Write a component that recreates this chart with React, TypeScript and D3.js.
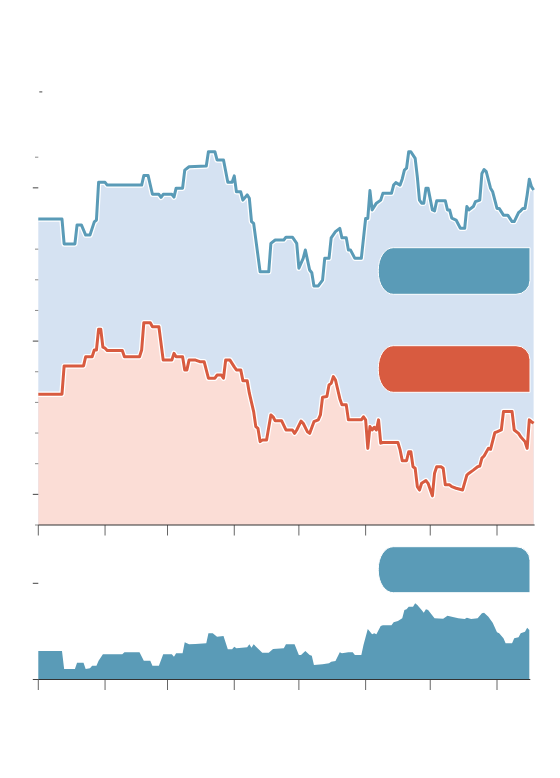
import React, { useEffect, useRef } from 'react'
import * as d3 from 'd3'

// [days since 1 Jan 2020, value]
type Point = [number, number]

const startDate = new Date(2020, 0, 1)
const lastTickDate = new Date(2020, 7, 1)

// upper line of the top chart (blue)
const upperSeries: Point[] = [
  [0, 9.98], [11, 9.98], [12, 9.17], [17, 9.17], [18, 9.79], [20, 9.79], [22, 9.46], [24, 9.46],
  [26, 9.89], [27, 9.95], [28, 11.18], [31, 11.18], [32, 11.09], [48, 11.09], [49, 11.4], [51, 11.4],
  [53, 10.79], [56, 10.79], [57, 10.69], [58, 10.79], [62, 10.79], [63, 10.7], [64, 10.99], [67, 10.99],
  [68, 11.58], [70, 11.69], [78, 11.71], [79, 12.18], [82, 12.18], [83, 11.91], [86, 11.91], [88, 11.18],
  [90, 11.18], [91, 11.39], [92, 10.87], [94, 10.87], [95, 10.6], [97, 10.77], [98, 10.66], [99, 9.9],
  [100, 9.84], [103, 8.26], [107, 8.26], [108, 9.19], [110, 9.3], [114, 9.3], [115, 9.39], [118, 9.39],
  [120, 9.19], [121, 8.38], [123, 8.7], [124, 8.97], [126, 8.32], [127, 8.23], [128, 7.8], [130, 7.8],
  [132, 7.99], [133, 8.7], [135, 8.7], [136, 9.37], [138, 9.57], [140, 9.68], [141, 9.37], [143, 9.37],
  [144, 8.97], [145, 8.97], [147, 8.7], [150, 8.7], [152, 10.0], [153, 10.0], [154, 10.91], [155, 10.28],
  [157, 10.5], [159, 10.6], [160, 10.82], [164, 10.82], [165, 11.09], [166, 11.17], [168, 11.09], [169, 11.29],
  [170, 11.58], [171, 11.64], [172, 12.18], [173, 12.18], [175, 11.96], [176, 11.36], [177, 10.6], [178, 10.5],
  [179, 10.5], [180, 10.99], [181, 10.99], [183, 10.28], [184, 10.25], [185, 10.58], [189, 10.58], [190, 10.28],
  [191, 10.28], [192, 10.01], [194, 9.95], [196, 9.68], [198, 9.68], [199, 10.39], [200, 10.28], [202, 10.39],
  [203, 10.55], [205, 10.6], [206, 11.47], [207, 11.6], [208, 11.53], [210, 10.99], [211, 10.87], [212, 10.6],
  [213, 10.33], [214, 10.33], [216, 10.11], [218, 10.11], [220, 9.9], [221, 9.9], [223, 10.19], [224, 10.25],
  [225, 10.33], [226, 10.33], [227, 10.77], [228, 11.28], [229, 11.04], [230, 10.93],
]

// lower line of the top chart (red)
const lowerSeries: Point[] = [
  [0, 4.27], [11, 4.27], [12, 5.19], [21, 5.19], [22, 5.49], [25, 5.49], [26, 5.71], [27, 5.71],
  [28, 6.39], [29, 6.39], [30, 5.8], [31, 5.77], [32, 5.69], [39, 5.69], [40, 5.49], [47, 5.49],
  [48, 5.71], [49, 6.6], [52, 6.6], [53, 6.47], [56, 6.47], [58, 5.38], [62, 5.38], [63, 5.6],
  [64, 5.49], [67, 5.49], [68, 5.06], [69, 5.06], [70, 5.38], [73, 5.38], [75, 5.33], [77, 5.33],
  [79, 4.79], [82, 4.79], [83, 4.89], [85, 4.89], [86, 4.79], [87, 5.38], [89, 5.38], [91, 5.16],
  [92, 5.06], [94, 5.06], [95, 4.71], [97, 4.71], [98, 4.3], [100, 3.7], [101, 3.21], [102, 3.15],
  [103, 2.72], [104, 2.77], [106, 2.77], [108, 3.59], [109, 3.53], [110, 3.4], [113, 3.4], [115, 3.1],
  [118, 3.1], [119, 2.99], [120, 3.1], [122, 3.39], [123, 3.32], [125, 3.04], [126, 2.99], [128, 3.37],
  [130, 3.43], [131, 3.59], [132, 4.17], [134, 4.19], [135, 4.57], [136, 4.62], [137, 4.84], [138, 4.73],
  [140, 4.13], [141, 3.92], [143, 3.92], [144, 3.43], [150, 3.43], [151, 3.53], [152, 3.43], [153, 2.5],
  [154, 3.21], [155, 3.1], [156, 3.19], [157, 3.1], [158, 3.43], [159, 2.67], [160, 2.69], [167, 2.69],
  [168, 2.45], [169, 2.1], [171, 2.1], [172, 2.39], [173, 2.39], [174, 1.9], [175, 1.85], [176, 1.25],
  [177, 1.14], [178, 1.36], [180, 1.45], [181, 1.36], [183, 0.95], [184, 1.69], [185, 1.9], [187, 1.9],
  [188, 1.85], [189, 1.31], [191, 1.31], [192, 1.25], [194, 1.2], [197, 1.14], [199, 1.63], [200, 1.69],
  [202, 1.79], [204, 1.9], [205, 1.92], [206, 2.18], [207, 2.25], [209, 2.5], [210, 2.47], [212, 3.01],
  [213, 3.04], [215, 3.1], [216, 3.7], [220, 3.7], [221, 3.1], [223, 2.99], [224, 2.88], [226, 2.72],
  [227, 2.5], [228, 3.43], [229, 3.37], [230, 3.32],
]

// bottom chart area
const bottomSeries: Point[] = [
  [0, 2.96], [11, 2.96], [12, 1.09], [17, 1.09], [18, 1.75], [21, 1.75], [22, 1.09], [24, 1.16],
  [25, 1.43], [27, 1.43], [28, 1.95], [30, 2.62], [39, 2.62], [40, 2.83], [47, 2.83], [49, 1.95],
  [52, 1.95], [53, 1.43], [56, 1.43], [58, 2.62], [62, 2.62], [63, 2.37], [64, 2.72], [67, 2.72],
  [68, 3.87], [70, 3.66], [73, 3.69], [78, 3.76], [79, 4.8], [81, 4.8], [83, 4.45], [86, 4.52],
  [88, 3.14], [90, 3.14], [91, 3.41], [92, 3.24], [97, 3.35], [98, 3.66], [99, 3.31], [100, 3.66],
  [104, 2.79], [107, 2.79], [109, 3.17], [114, 3.24], [115, 3.66], [119, 3.66], [121, 2.55], [122, 2.55],
  [124, 2.96], [126, 2.55], [127, 2.47], [128, 1.51], [132, 1.58], [135, 1.68], [136, 1.85], [138, 1.92],
  [140, 2.83], [141, 2.72], [144, 2.83], [146, 2.83], [147, 2.55], [150, 2.55], [151, 3.59], [153, 5.25],
  [155, 4.7], [156, 4.8], [157, 4.7], [159, 5.56], [160, 5.63], [164, 5.63], [165, 5.95], [167, 6.08],
  [169, 6.36], [170, 7.22], [171, 7.3], [172, 7.57], [174, 7.57], [175, 7.92], [176, 7.74], [178, 7.22],
  [179, 6.94], [180, 7.3], [181, 7.22], [182, 6.94], [184, 6.36], [188, 6.32], [190, 6.63], [192, 6.53],
  [195, 6.36], [198, 6.29], [199, 6.42], [201, 6.29], [204, 6.36], [206, 6.88], [207, 6.94], [209, 6.53],
  [211, 5.9], [213, 4.91], [214, 4.8], [216, 4.28], [217, 3.76], [220, 3.76], [221, 4.28], [223, 4.39],
  [224, 4.8], [226, 4.97], [227, 5.38], [228, 5.15],
]

const topTicks = [0, 1, 2, 3, 4, 5, 6, 7, 8, 9, 11, 12]
const topMajorTicks = [1, 6, 11]
const topCapTick = 14.13
const bottomTicks = [0, 10]

const BLUE = '#5a9bb7'
const BLUE_FILL = '#d5e2f2'
const RED = '#d85b40'
const RED_FILL = '#fbddd6'

// rounded label box: left corners elliptical, right corners optional
const pillPath = (x: number, y: number, w: number, h: number, rTR: number, rBR: number) => {
  const rx = 15
  const ry = 22
  const p = d3.path()
  p.moveTo(x + rx, y)
  p.lineTo(x + w - rTR, y)
  if (rTR) p.arcTo(x + w, y, x + w, y + rTR, rTR)
  p.lineTo(x + w, y + h - rBR)
  if (rBR) p.arcTo(x + w, y + h, x + w - rBR, y + h, rBR)
  p.lineTo(x + rx, y + h)
  return p.toString() + ` A${rx},${ry} 0 0 1 ${x},${y + h - ry} L${x},${y + ry} A${rx},${ry} 0 0 1 ${x + rx},${y} Z`
}

const App: React.FC = () => {
  const svgRef = useRef<SVGSVGElement>(null)

  useEffect(() => {
    if (!svgRef.current) return
    const svg = d3.select(svgRef.current)
    svg.selectAll('*').remove()

    const date = (d: number) => d3.timeDay.offset(startDate, d)
    const x = d3.scaleTime().domain([startDate, lastTickDate]).range([38.3, 497])
    const yTop = d3.scaleLinear().domain([0, 10]).range([525, 218.5])
    const yBottom = d3.scaleLinear().domain([0, 10]).range([679.5, 583.3])

    const areaTop = d3.area<Point>()
      .x(p => x(date(p[0])))
      .y0(yTop(0))
      .y1(p => yTop(p[1]))
    const lineTop = d3.line<Point>()
      .x(p => x(date(p[0])))
      .y(p => yTop(p[1]))
    const areaBottom = d3.area<Point>()
      .x(p => x(date(p[0])))
      .y0(yBottom(0))
      .y1(p => yBottom(p[1]))

    const g = svg.append('g')

    // top chart fills
    g.append('path').attr('d', areaTop(upperSeries)).attr('fill', BLUE_FILL)
    g.append('path').attr('d', areaTop(lowerSeries)).attr('fill', RED_FILL)

    // lines with white halo
    const drawLine = (data: Point[], color: string) => {
      g.append('path').attr('d', lineTop(data)).attr('fill', 'none')
        .attr('stroke', '#fff').attr('stroke-width', 5.5).attr('stroke-linejoin', 'round')
      g.append('path').attr('d', lineTop(data)).attr('fill', 'none')
        .attr('stroke', color).attr('stroke-width', 3).attr('stroke-linejoin', 'round')
    }
    drawLine(upperSeries, BLUE)
    drawLine(lowerSeries, RED)

    // bottom chart area
    g.append('path').attr('d', areaBottom(bottomSeries)).attr('fill', BLUE)

    // label boxes
    g.append('path').attr('d', pillPath(378.3, 247.7, 151.7, 46.6, 0, 14))
      .attr('fill', BLUE).attr('stroke', '#fff').attr('stroke-width', 1)
    g.append('path').attr('d', pillPath(378.3, 345.7, 151.7, 46.6, 14, 0))
      .attr('fill', RED).attr('stroke', '#fff').attr('stroke-width', 1)
    g.append('path').attr('d', pillPath(378.3, 546.7, 151.7, 46, 14, 0))
      .attr('fill', BLUE).attr('stroke', '#fff').attr('stroke-width', 1)

    // y ticks, top chart
    const x0 = x(startDate)
    topTicks.forEach(v => {
      const major = topMajorTicks.includes(v)
      g.append('line')
        .attr('x1', x0 - (major ? 5.5 : 3.3)).attr('x2', x0)
        .attr('y1', yTop(v)).attr('y2', yTop(v))
        .attr('stroke', major ? '#444' : '#8a8a8a').attr('stroke-width', 1)
    })
    g.append('line')
      .attr('x1', x0 + 1).attr('x2', x0 + 4)
      .attr('y1', yTop(topCapTick)).attr('y2', yTop(topCapTick))
      .attr('stroke', '#444').attr('stroke-width', 1)

    // y ticks, bottom chart
    bottomTicks.forEach(v => {
      g.append('line')
        .attr('x1', x0 - 5.5).attr('x2', x0)
        .attr('y1', yBottom(v)).attr('y2', yBottom(v))
        .attr('stroke', '#444').attr('stroke-width', 1)
    })

    // x axes
    const months = d3.timeMonth.range(startDate, d3.timeDay.offset(lastTickDate, 1))
    const drawXAxis = (y0: number, lastDay: number) => {
      months.forEach(m => {
        g.append('line')
          .attr('x1', x(m)).attr('x2', x(m))
          .attr('y1', y0).attr('y2', y0 + 10.5)
          .attr('stroke', '#666').attr('stroke-width', 1)
      })
      g.append('line')
        .attr('x1', x0).attr('x2', x(date(lastDay)) + 1)
        .attr('y1', y0).attr('y2', y0)
        .attr('stroke', '#333').attr('stroke-width', 1.2)
    }
    drawXAxis(yTop(0), upperSeries[upperSeries.length - 1][0])
    drawXAxis(yBottom(0), bottomSeries[bottomSeries.length - 1][0])
  }, [])

  return (
    <svg
      ref={svgRef}
      width={560}
      height={778}
      style={{ position: 'absolute', left: 0, top: 0, display: 'block', background: '#fff' }}
    />
  )
}

export default App
